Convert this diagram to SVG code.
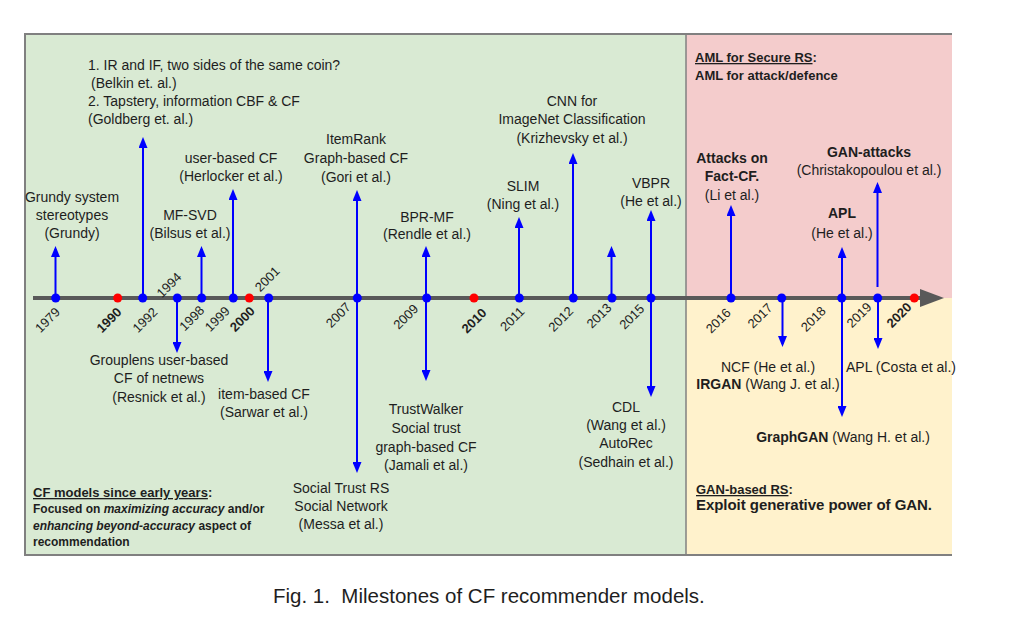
<svg xmlns="http://www.w3.org/2000/svg" width="1011" height="627" viewBox="0 0 1011 627">
<style>
text{font-family:"Liberation Sans",Arial,sans-serif;fill:#1e1e1e;}
.l{font-size:14px;text-anchor:middle;}
.ls{font-size:14px;}
.b{font-weight:bold;}
.yr{font-size:13px;text-anchor:middle;}
.hd{font-size:13px;font-weight:bold;}
.bd{font-size:12px;font-weight:bold;}
.big{font-size:15px;font-weight:bold;}
.arr{stroke:#0000ff;stroke-width:2;fill:none;marker-end:url(#ah);}
.dot{fill:#0000ff;}
.red{fill:#ff0000;}
.u{text-decoration:underline;}
</style>
<defs>
<marker id="ah" viewBox="0 0 11 9" refX="8" refY="4.5" markerWidth="11" markerHeight="9" markerUnits="userSpaceOnUse" orient="auto">
<path d="M0,0 L11,4.5 L0,9 z" fill="#0000ff"/>
</marker>
</defs>
<rect width="1011" height="627" fill="#ffffff"/>
<g id="panels">
<rect x="25" y="34" width="661" height="521" fill="#d9ead3"/>
<rect x="686" y="34" width="266" height="264" fill="#f4cccc"/>
<rect x="686" y="298" width="266" height="257" fill="#fff2cc"/>
<path d="M952,34 H25 V555 H952" fill="none" stroke="#808080" stroke-width="2"/>
<line x1="686" y1="34" x2="686" y2="555" stroke="#808080" stroke-width="1.5"/>
</g>
<g id="axis">
<line x1="33" y1="298" x2="921" y2="298" stroke="#595959" stroke-width="4"/>
<path d="M920,289 L944,298 L920,307 z" fill="#595959"/>
</g>
<g id="connectors">
<line class="arr" x1="55.5" y1="298" x2="55.5" y2="249"/>
<line class="arr" x1="143" y1="298" x2="143" y2="140"/>
<line class="arr" x1="177" y1="298" x2="177" y2="350"/>
<line class="arr" x1="201.5" y1="298" x2="201.5" y2="249"/>
<line class="arr" x1="233" y1="298" x2="233" y2="192"/>
<line class="arr" x1="268" y1="298" x2="268" y2="379"/>
<line class="arr" x1="357" y1="298" x2="357" y2="193"/>
<line class="arr" x1="357" y1="298" x2="357" y2="470"/>
<line class="arr" x1="426" y1="298" x2="426" y2="249"/>
<line class="arr" x1="426" y1="298" x2="426" y2="378"/>
<line class="arr" x1="519" y1="298" x2="519" y2="220"/>
<line class="arr" x1="573" y1="298" x2="573" y2="156"/>
<line class="arr" x1="611.5" y1="298" x2="611.5" y2="249"/>
<line class="arr" x1="651" y1="298" x2="651" y2="213"/>
<line class="arr" x1="651" y1="298" x2="651" y2="394"/>
<line class="arr" x1="731" y1="298" x2="731" y2="208"/>
<line class="arr" x1="782.5" y1="298" x2="782.5" y2="344"/>
<line class="arr" x1="842" y1="298" x2="842" y2="250"/>
<line class="arr" x1="842" y1="298" x2="842" y2="414"/>
<line class="arr" x1="877.5" y1="287" x2="877.5" y2="185"/>
<line class="arr" x1="878" y1="298" x2="878" y2="346"/>
</g>
<g id="dots">
<circle class="dot" cx="55.7" cy="298" r="4.5"/>
<circle class="red" cx="117.7" cy="298" r="4.5"/>
<circle class="dot" cx="142.7" cy="298" r="4.5"/>
<circle class="dot" cx="177.3" cy="298" r="4.5"/>
<circle class="dot" cx="201.7" cy="298" r="4.5"/>
<circle class="dot" cx="233.3" cy="298" r="4.5"/>
<circle class="red" cx="249.3" cy="298" r="4.5"/>
<circle class="dot" cx="268.7" cy="298" r="4.5"/>
<circle class="dot" cx="357.3" cy="298" r="4.5"/>
<circle class="dot" cx="426.7" cy="298" r="4.5"/>
<circle class="red" cx="474" cy="298" r="4.5"/>
<circle class="dot" cx="519.3" cy="298" r="4.5"/>
<circle class="dot" cx="573.3" cy="298" r="4.5"/>
<circle class="dot" cx="612" cy="298" r="4.5"/>
<circle class="dot" cx="651" cy="298" r="4.5"/>
<circle class="dot" cx="731" cy="298" r="4.5"/>
<circle class="dot" cx="781.7" cy="298" r="4.5"/>
<circle class="dot" cx="841.7" cy="298" r="4.5"/>
<circle class="dot" cx="877.7" cy="298" r="4.5"/>
<circle class="red" cx="914.3" cy="298" r="4.5"/>
</g>
<g id="years">
<text class="yr" transform="translate(47.5,320) rotate(-45)" y="4.5">1979</text>
<text class="yr b" transform="translate(109,320) rotate(-45)" y="4.5">1990</text>
<text class="yr" transform="translate(145,320) rotate(-45)" y="4.5">1992</text>
<text class="yr" transform="translate(169,285) rotate(-45)" y="4.5">1994</text>
<text class="yr" transform="translate(191.7,318.3) rotate(-45)" y="4.5">1998</text>
<text class="yr" transform="translate(217.3,319) rotate(-45)" y="4.5">1999</text>
<text class="yr b" transform="translate(242.3,319) rotate(-45)" y="4.5">2000</text>
<text class="yr" transform="translate(267.3,279) rotate(-45)" y="4.5">2001</text>
<text class="yr" transform="translate(338.3,315) rotate(-45)" y="4.5">2007</text>
<text class="yr" transform="translate(405.7,316.7) rotate(-45)" y="4.5">2009</text>
<text class="yr b" transform="translate(474,320.7) rotate(-45)" y="4.5">2010</text>
<text class="yr" transform="translate(512.3,319) rotate(-45)" y="4.5">2011</text>
<text class="yr" transform="translate(560.7,319) rotate(-45)" y="4.5">2012</text>
<text class="yr" transform="translate(599,315.7) rotate(-45)" y="4.5">2013</text>
<text class="yr" transform="translate(631.7,316.7) rotate(-45)" y="4.5">2015</text>
<text class="yr" transform="translate(718.3,320.7) rotate(-45)" y="4.5">2016</text>
<text class="yr" transform="translate(760,315.7) rotate(-45)" y="4.5">2017</text>
<text class="yr" transform="translate(813.3,319) rotate(-45)" y="4.5">2018</text>
<text class="yr" transform="translate(859,315) rotate(-45)" y="4.5">2019</text>
<text class="yr b" transform="translate(899,315) rotate(-45)" y="4.5">2020</text>
</g>
<g id="n1992">
<text class="ls" x="88" y="70">1. IR and IF, two sides of the same coin?</text>
<text class="ls" x="91" y="88">(Belkin et. al.)</text>
<text class="ls" x="88" y="106">2. Tapstery, information CBF &amp; CF</text>
<text class="ls" x="88" y="124">(Goldberg et. al.)</text>
</g>
<g id="n1979">
<text class="l" x="72" y="202">Grundy system</text>
<text class="l" x="72" y="220">stereotypes</text>
<text class="l" x="72" y="238">(Grundy)</text>
</g>
<g id="n1998">
<text class="l" x="190" y="220">MF-SVD</text>
<text class="l" x="190" y="238">(Bilsus et al.)</text>
</g>
<g id="n1999">
<text class="l" x="231" y="163">user-based CF</text>
<text class="l" x="231" y="181">(Herlocker et al.)</text>
</g>
<g id="n2007up">
<text class="l" x="356" y="144">ItemRank</text>
<text class="l" x="356" y="163">Graph-based CF</text>
<text class="l" x="356" y="182">(Gori et al.)</text>
</g>
<g id="n2009up">
<text class="l" x="427" y="222">BPR-MF</text>
<text class="l" x="427" y="239">(Rendle et al.)</text>
</g>
<g id="n2011">
<text class="l" x="523" y="191">SLIM</text>
<text class="l" x="523" y="209">(Ning et al.)</text>
</g>
<g id="n2012">
<text class="l" x="572" y="106">CNN for</text>
<text class="l" x="572" y="124">ImageNet Classification</text>
<text class="l" x="572" y="143">(Krizhevsky et al.)</text>
</g>
<g id="n2015up">
<text class="l" x="651" y="188">VBPR</text>
<text class="l" x="651" y="206">(He et al.)</text>
</g>
<g id="aml">
<text class="hd" x="695" y="62"><tspan class="u">AML for Secure RS</tspan>:</text>
<text class="hd" x="695" y="80">AML for attack/defence</text>
</g>
<g id="n2016">
<text class="l b" x="732" y="163">Attacks on</text>
<text class="l b" x="732" y="181">Fact-CF.</text>
<text class="l" x="732" y="200">(Li et al.)</text>
</g>
<g id="n2019up">
<text class="l b" x="869" y="157">GAN-attacks</text>
<text class="l" x="869" y="175">(Christakopoulou et al.)</text>
</g>
<g id="n2018up">
<text class="l b" x="842" y="218">APL</text>
<text class="l" x="842" y="238">(He et al.)</text>
</g>
<g id="n1994">
<text class="l" x="159" y="365">Grouplens user-based</text>
<text class="l" x="159" y="383">CF of netnews</text>
<text class="l" x="159" y="402">(Resnick et al.)</text>
</g>
<g id="n2001">
<text class="l" x="264" y="399">item-based CF</text>
<text class="l" x="264" y="417">(Sarwar et al.)</text>
</g>
<g id="n2009down">
<text class="l" x="426" y="414">TrustWalker</text>
<text class="l" x="426" y="433">Social trust</text>
<text class="l" x="426" y="452">graph-based CF</text>
<text class="l" x="426" y="470">(Jamali et al.)</text>
</g>
<g id="n2015down">
<text class="l" x="626" y="412">CDL</text>
<text class="l" x="626" y="430">(Wang et al.)</text>
<text class="l" x="626" y="448">AutoRec</text>
<text class="l" x="626" y="467">(Sedhain et al.)</text>
</g>
<g id="n2007down">
<text class="l" x="341" y="493">Social Trust RS</text>
<text class="l" x="341" y="511">Social Network</text>
<text class="l" x="341" y="529">(Messa et al.)</text>
</g>
<g id="cfmodels">
<text class="hd" x="33" y="497"><tspan class="u">CF models since early years</tspan>:</text>
<text class="bd" x="33" y="513">Focused on <tspan font-style="italic">maximizing accuracy</tspan> and/or</text>
<text class="bd" x="33" y="530"><tspan font-style="italic">enhancing beyond-accuracy</tspan> aspect of</text>
<text class="bd" x="33" y="546">recommendation</text>
</g>
<g id="n2017">
<text class="l" x="768" y="372">NCF (He et al.)</text>
<text class="l" x="768" y="389"><tspan class="b">IRGAN</tspan> (Wang J. et al.)</text>
</g>
<g id="n2019down">
<text class="l" x="901" y="372">APL (Costa et al.)</text>
</g>
<g id="n2018down">
<text class="l" x="843" y="442"><tspan class="b">GraphGAN</tspan> (Wang H. et al.)</text>
</g>
<g id="ganrs">
<text class="hd" x="696" y="494"><tspan class="u">GAN-based RS</tspan>:</text>
<text class="big" x="696" y="510" textLength="236" lengthAdjust="spacing">Exploit generative power of GAN.</text>
</g>
<g id="caption">
<text x="273" y="603" font-size="20.5px" fill="#111">Fig. 1.&#160; Milestones of CF recommender models.</text>
</g>
</svg>
